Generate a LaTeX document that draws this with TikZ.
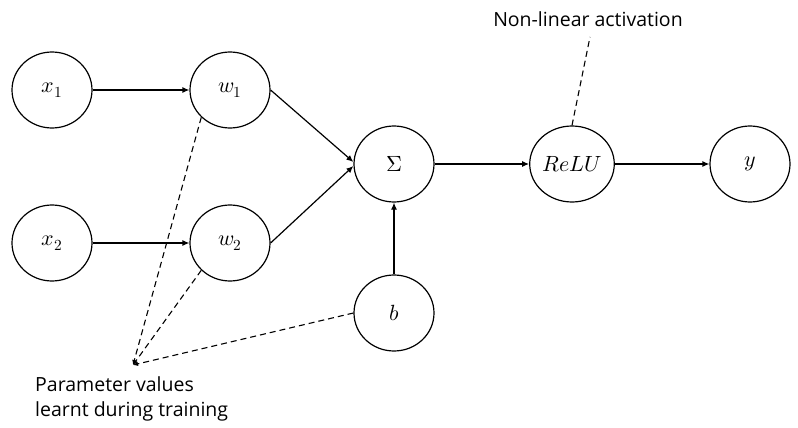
\documentclass[tikz,border=0pt]{standalone}
\usepackage{fontspec}
\usepackage{unicode-math}
\setmainfont{Open Sans}
\usetikzlibrary{arrows.meta, positioning, shapes.geometric}

\tikzset{
    neuron/.style={draw, ellipse, line width=1.2pt, minimum width=80pt, minimum height=76pt, inner sep=0pt, font=\fontsize{22}{26}\selectfont},
    link/.style={line width=1.2pt, -{Latex[length=7pt, width=6pt]}},
    hint/.style={line width=1.1pt, dash pattern=on 6pt off 4pt, -{Latex[length=5pt, width=4.5pt]}},
    note/.style={font=\fontsize{19.5}{25}\selectfont, align=left, inner sep=0pt}
}

\begin{document}
\begin{tikzpicture}[x=1pt, y=-1pt]
    \useasboundingbox (0,0) rectangle (798,428);

    % inputs and weights
    \node[neuron] (x1) at (52,90) {$x_1$};
    \node[neuron] (x2) at (52,243) {$x_2$};
    \node[neuron] (w1) at (230,90) {$w_1$};
    \node[neuron] (w2) at (230,243) {$w_2$};

    % sum, bias, activation, output
    \node[neuron] (sum) at (394,164) {$\Sigma$};
    \node[neuron] (b) at (394,313) {$b$};
    \node[neuron] (relu) at (572,164) {$ReLU$};
    \node[neuron] (y) at (750,164) {$y$};

    \draw[link] (x1) -- (w1);
    \draw[link] (x2) -- (w2);
    \draw[link] (w1.east) -- ([yshift=2pt]sum.west);
    \draw[link] (w2.east) -- ([yshift=-2pt]sum.west);
    \draw[link] (b) -- (sum);
    \draw[link] (sum) -- (relu);
    \draw[link] (relu) -- (y);

    % annotations
    \node[note, anchor=base] (act) at (588,27) {Non-linear activation};
    \coordinate (actend) at (590,37);
    \draw[hint, -] (relu.north) -- (actend);

    \coordinate (params) at (133,365);
    \node[note, anchor=north west] (learnt) at (35,376) {Parameter values\\learnt during training};
    \draw[hint] (w1.south west) -- (params);
    \draw[hint] (w2.south west) -- (params);
    \draw[hint] (b.west) -- (params);
\end{tikzpicture}
\end{document}
